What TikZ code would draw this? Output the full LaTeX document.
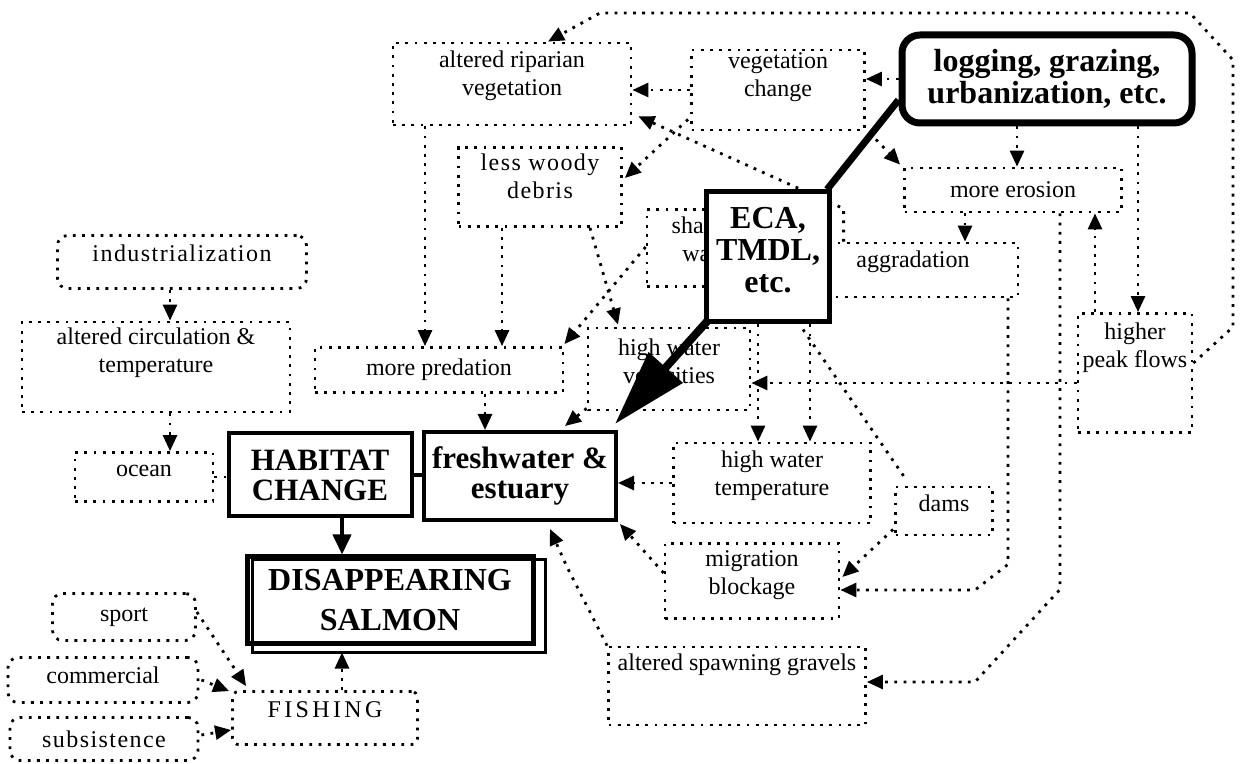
\documentclass[tikz,border=0pt]{standalone}
\usepackage{fontspec}
\setmainfont{Liberation Serif}
\newfontfamily\spaced[LetterSpace=6]{Liberation Serif}
\usetikzlibrary{positioning,calc,arrows.meta}
\pgfdeclarelayer{front}
\pgfsetlayers{main,front}

\tikzset{
  dotline/.style={line width=1.4pt, dash pattern=on 1.4pt off 3.2pt},
  box/.style={draw, dotline, inner sep=1pt, align=center, font=\fontsize{12}{14}\selectfont},
  rbox/.style={box, rounded corners=5pt},
  bigbox/.style={draw, line width=2pt, fill=white, inner sep=1pt, align=center, font=\fontsize{15.5}{15}\selectfont\bfseries},
  arr/.style={dotline, -{Triangle[length=8pt,width=7pt]}},
}

\begin{document}
\begin{tikzpicture}[x=0.5pt, y=-0.5pt]
	\useasboundingbox (0,0) rectangle (1243,764);
	\begin{pgfonlayer}{front}
	\node[bigbox, rounded corners=9pt, line width=3.5pt, minimum width=145pt, minimum height=44pt, font=\fontsize{16}{16}\selectfont\bfseries] (logging) at (1047,79) {logging, grazing,\\urbanization, etc.};
	\node[bigbox, line width=2.5pt, minimum width=61.5pt, minimum height=65pt, font=\fontsize{16}{16}\selectfont\bfseries, text depth=7pt] (eca) at (768,257) {ECA,\\TMDL,\\etc.};
	\node[bigbox, minimum width=91.5pt, minimum height=41.5pt] (habitat) at (320,475) {HABITAT\\CHANGE};
	\node[bigbox, minimum width=96pt, minimum height=44pt] (fresh) at (520,476) {freshwater \&\\estuary};
	\node[bigbox, line width=2.5pt, minimum width=143pt, minimum height=43pt, font=\fontsize{16}{20}\selectfont\bfseries] (salmon) at (390,600) {DISAPPEARING\\SALMON};
	\draw[line width=1.5pt] ($(salmon.north west)+(8,5)$) rectangle ($(salmon.south east)+(10,7)$);
	\end{pgfonlayer}

	\node[box, minimum width=119pt, minimum height=41pt, text depth=10.6pt] (riparian) at (512,84) {altered riparian\\vegetation};
	\node[box, minimum width=86.5pt, minimum height=40pt, text depth=15pt] (vegchange) at (778,90) {vegetation\\change};
	\node[box, minimum width=81.5pt, minimum height=39.5pt, text depth=11pt, font=\spaced\fontsize{12}{14}\selectfont] (lesswoody) at (540,187) {less woody\\debris};
	\node[box, minimum width=108.5pt, minimum height=22pt] (moreerosion) at (1013,190) {more erosion};
	\node[box, minimum width=62pt, minimum height=38.5pt, text depth=8.6pt] (shallow) at (709,248) {shallow\\water};
	\node[box, minimum width=105pt, minimum height=27pt, text depth=10.6pt] (aggradation) at (913,270) {aggradation};
	\node[box, minimum width=124pt, minimum height=22.5pt] (predation) at (439,370) {more predation};
	\node[box, minimum width=81pt, minimum height=41pt, text depth=8pt] (velocities) at (669,369) {high water\\velocities};
	\node[rbox, minimum width=124.5pt, minimum height=26.5pt, text depth=8.5pt, font=\spaced\fontsize{12}{14}\selectfont] (industrialization) at (182,262) {industrialization};
	\node[box, minimum width=134pt, minimum height=45pt, text depth=17pt] (circulation) at (156,367) {altered circulation \&\\temperature};
	\node[box, minimum width=69pt, minimum height=24.5pt, text depth=6pt] (ocean) at (144,477) {ocean};
	\node[box, minimum width=98.5pt, minimum height=40pt, text depth=9.6pt] (temperature) at (772,483) {high water\\temperature};
	\node[box, minimum width=48.5pt, minimum height=24pt, text depth=8pt] (dams) at (944,511) {dams};
	\node[box, minimum width=87pt, minimum height=37.5pt, text depth=8.6pt] (migration) at (752,581) {migration\\blockage};
	\node[box, minimum width=128.5pt, minimum height=39pt, text depth=23.6pt] (spawning) at (737,686) {altered spawning gravels};
	\node[box, minimum width=57pt, minimum height=59.5pt, text depth=28pt] (higherpeak) at (1135,373) {higher\\peak flows};
	\node[rbox, minimum width=71.5pt, minimum height=23.5pt] (sport) at (124,617) {sport};
	\node[rbox, minimum width=95pt, minimum height=22.5pt, text depth=4.5pt] (commercial) at (103,680) {commercial};
	\node[rbox, minimum width=94pt, minimum height=21.5pt, font=\spaced\fontsize{12}{14}\selectfont] (subsistence) at (104,739) {subsistence};
	\node[box, rounded corners=3pt, minimum width=92.5pt, minimum height=26.5pt, text depth=8.5pt, font=\spaced\addfontfeature{LetterSpace=14}\fontsize{12}{14}\selectfont] (fishing) at (325,718) {FISHING};

	\draw[arr] (logging.west) -- (logging.west -| vegchange.east);
	\draw[arr] (vegchange.west) -- (vegchange.west -| riparian.east);
	\draw[arr] ($(vegchange.south west)+(-2,-12)$) -- ($(lesswoody.east)+(2,-9)$);
	\draw[arr] ($(vegchange.south east)+(10,8)$) -- ($(moreerosion.north west)+(-3,-2)$);
	\draw[arr] ($(logging.south)+(-30,0)$) -- ($(moreerosion.north)+(4,0)$);
	\draw[arr] ($(logging.south)+(91,0)$) -- ($(higherpeak.north)+(3,0)$);
	\draw[arr] ($(higherpeak.north)+(-40,0)$) -- ($(moreerosion.south)+(82,0)$);
	\draw[arr] ($(moreerosion.south)+(-48,0)$) -- ($(aggradation.north)+(52,0)$);
	\draw[arr] ($(aggradation.north west)+(37,0)$) -- ++(0,-33) -- ($(riparian.south east)+(6,-10)$);
	\draw[arr] ($(higherpeak.east)+(0,-10)$) -- (1233,327) -- (1233,60) -- (1190,13) -- (600,13) -- ($(riparian.north)+(36,0)$);
	\draw[arr] ($(riparian.south)+(-87,0)$) -- ($(predation.north)+(-14,0)$);
	\draw[arr] ($(lesswoody.south)+(-38,0)$) -- ($(predation.north)+(63,0)$);
	\draw[arr] ($(lesswoody.south)+(50,0)$) -- ($(velocities.north)+(-51,-2)$);
	\draw[arr] ($(shallow.west)+(0,-1)$) -- ($(predation.north east)+(0,-2)$);
	\draw[arr] ($(eca.south)+(-10,0)$) -- ($(temperature.north)+(-14,0)$);
	\draw[arr] ($(eca.south)+(42,0)$) -- ($(temperature.north)+(38,0)$);
	\draw[dotline] ($(eca.south)+(35,5)$) -- ($(dams.north west)+(12,-6)$);
	\draw[arr] ($(higherpeak.west)+(0,10)$) -- ($(velocities.east)+(0,14)$);
	\draw[arr] ($(predation.south)+(46,0)$) -- ($(fresh.north)+(-35,0)$);
	\draw[arr] ($(velocities.south west)+(0,-3)$) -- ($(fresh.north)+(45,-4)$);
	\draw[arr] ($(moreerosion.south)+(47,0)$) -- ++(0,376) -- (975,682) -- ($(spawning.east)+(0,-4)$);
	\draw[arr] ($(aggradation.south)+(95,0)$) -- ++(0,266) -- (975,590) -- ($(migration.east)+(0,9)$);
	\draw[arr] ($(dams.south west)+(-1,-7)$) -- ($(migration.east)+(2,-4)$);
	\draw[arr] (temperature.west) -- (temperature.west -| fresh.east);
	\draw[arr] ($(migration.west)+(0,-8)$) -- ($(fresh.south east)+(2,2)$);
	\draw[arr] (spawning.north west) -- (567,567) -- ($(fresh.south)+(30,7)$);
	\draw[arr] ($(industrialization.south)+(-12,0)$) -- ($(circulation.north)+(14,0)$);
	\draw[arr] ($(circulation.south)+(14,0)$) -- ($(ocean.north)+(26,0)$);
	\draw[dotline] (ocean.east) -- (ocean.east -| habitat.west);
	\draw[arr] ($(fishing.north)+(17,0)$) -- ($(salmon.south)+(-48,7)$);
	\draw[arr] ($(sport.east)+(0,-5)$) -- ($(fishing.north west)+(15,-4)$);
	\draw[arr] ($(commercial.east)+(2,0)$) -- ($(fishing.north west)+(-2,1)$);
	\draw[arr] ($(subsistence.east)+(2,-4)$) -- ($(fishing.west)+(0,12)$);

	\draw[line width=3.5pt] ($(logging.west)+(0,21)$) -- ($(eca.north east)+(-5,0)$);
	\draw[line width=4pt, -{Triangle[length=38pt,width=22pt]}] ($(eca.south west)+(3,-3)$) -- ($(fresh.north east)+(-3,-6)$);
	\draw[line width=2pt] (habitat.east) -- (habitat.east -| fresh.west);
	\draw[line width=2pt, -{Triangle[length=10pt,width=9pt]}] ($(habitat.south)+(22,0)$) -- ($(salmon.north)+(-48,0)$);
\end{tikzpicture}
\end{document}
